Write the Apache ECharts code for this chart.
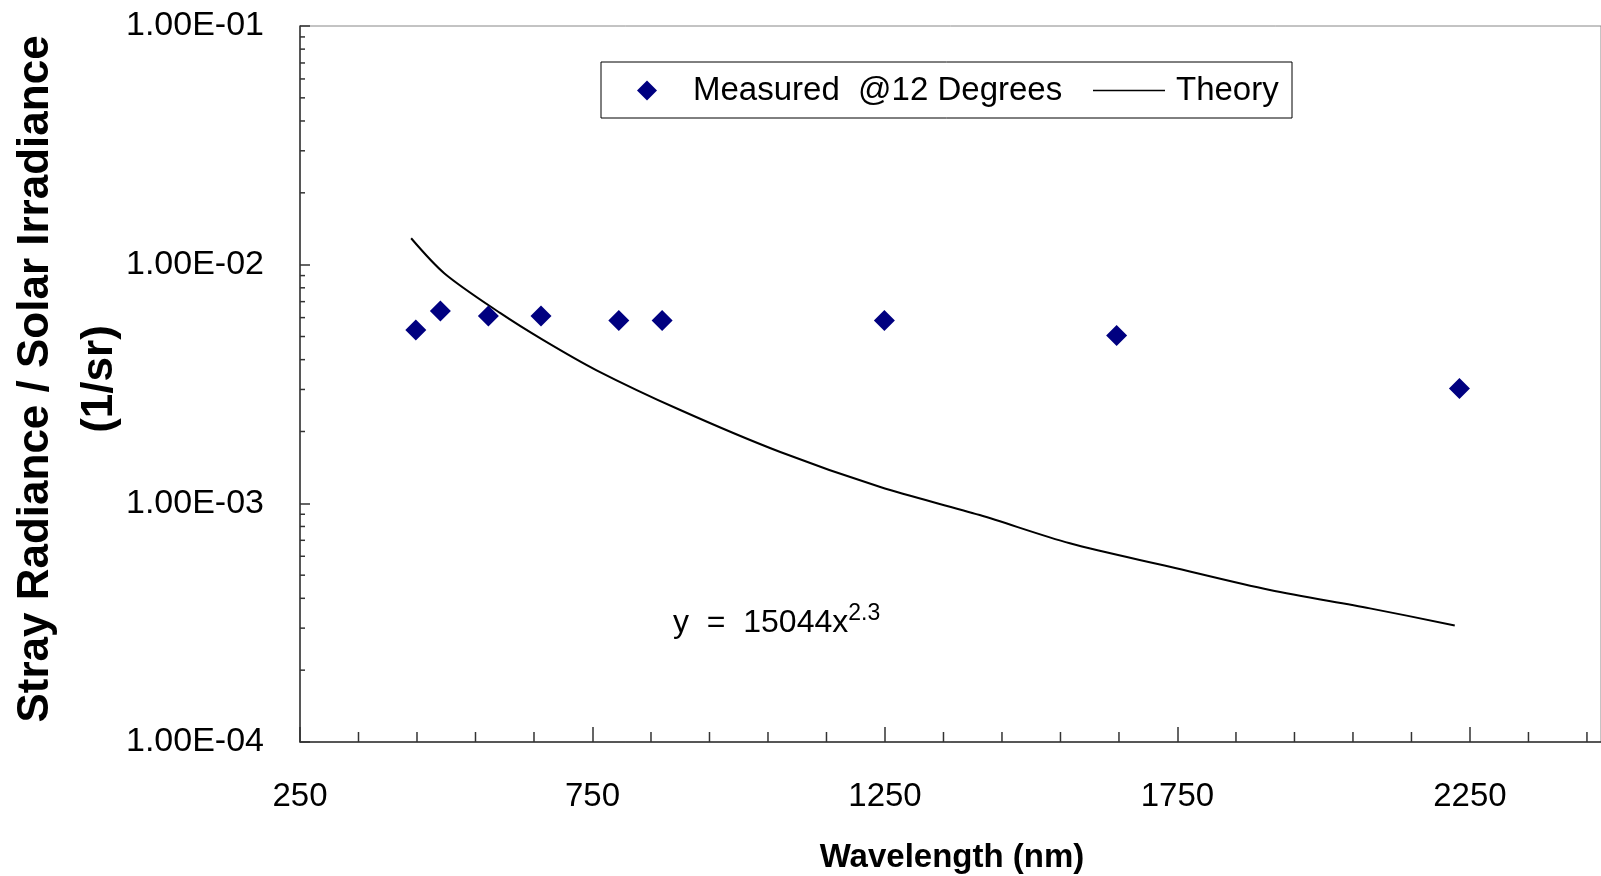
<!DOCTYPE html>
<html>
<head>
<meta charset="utf-8">
<script src="https://cdn.jsdelivr.net/npm/echarts@6/dist/echarts.min.js"></script>
<style>
  html, body { margin: 0; padding: 0; background: #fff; }
  #chart { width: 1601px; height: 876px; }
</style>
</head>
<body>
<div id="chart"></div>
<script>
// values
const measuredWavelength = [448, 490, 572, 662, 795, 869, 1249, 1646, 2232];
const measuredRatio = [5.32e-3, 6.39e-3, 6.09e-3, 6.09e-3, 5.84e-3, 5.84e-3, 5.84e-3, 5.05e-3, 3.03e-3];

const theoryWavelength = [440, 497, 592, 666, 757, 900, 1071, 1242, 1412, 1566, 1737, 1908, 2079, 2224];
const theoryRatio = [1.29e-2, 9.19e-3, 6.28e-3, 4.83e-3, 3.61e-3, 2.46e-3, 1.64e-3, 1.17e-3, 8.93e-4, 6.80e-4, 5.42e-4, 4.33e-4, 3.63e-4, 3.08e-4];

const xTickLabels = [250, 750, 1250, 1750, 2250];
const xMinorTicks = [350, 450, 550, 650, 850, 950, 1050, 1150, 1350, 1450, 1550, 1650,
    1850, 1950, 2050, 2150, 2350, 2450];
const yMinorTicks = [];
[1e-4, 1e-3, 1e-2].forEach(function (d) {
    [2, 3, 4, 5, 6, 7, 8, 9].forEach(function (m) { yMinorTicks.push(m * d); });
});

const font = 'Liberation Sans, Arial, sans-serif';

function fmtExp(v) {
    var e = Math.round(Math.log10(v));
    return '1.00E' + (e < 0 ? '-' : '+') + String(Math.abs(e)).padStart(2, '0');
}

function tickSeries(points, dx, dy) {
    return {
        type: 'custom',
        silent: true,
        clip: false,
        data: points,
        renderItem: function (params, api) {
            var p = api.coord([api.value(0), api.value(1)]);
            return {
                type: 'line',
                shape: { x1: p[0], y1: p[1], x2: p[0] + dx, y2: p[1] + dy },
                style: { stroke: '#333', lineWidth: 1.5 }
            };
        },
        z: 5
    };
}

var chart = echarts.init(document.getElementById('chart'));
chart.setOption({
    animation: false,
    backgroundColor: '#fff',
    grid: {
        left: 300,
        top: 26,
        right: 0,
        bottom: 134,
        show: true,
        borderColor: '#888',
        borderWidth: 1,
        backgroundColor: 'transparent'
    },
    legend: [
        {
            data: [{ name: 'Measured @12 Degrees', icon: 'diamond' }],
            left: 637,
            top: 74,
            padding: 0,
            itemWidth: 20,
            itemHeight: 20,
            textStyle: { fontFamily: font, fontSize: 33, color: '#000', padding: [0, 0, 6, 31] },
            formatter: function () { return 'Measured  @12 Degrees'; }
        },
        {
            data: [{ name: 'Theory', icon: 'rect', itemStyle: { color: '#000' } }],
            left: 1093,
            top: 74,
            padding: 0,
            itemWidth: 72,
            itemHeight: 1.5,
            textStyle: { fontFamily: font, fontSize: 33, color: '#000', padding: [0, 0, 6, 6] }
        }
    ],
    graphic: [
        {
            type: 'rect',
            shape: { x: 601, y: 62, width: 691, height: 56 },
            style: { fill: 'none', stroke: '#000', lineWidth: 1 },
            z: 1
        },
        {
            type: 'text',
            left: 673,
            top: 602,
            style: {
                text: '{m|y  =  15044x}{s|2.3}',
                rich: {
                    m: { fontFamily: font, fontSize: 32, fill: '#000', verticalAlign: 'bottom' },
                    s: { fontFamily: font, fontSize: 23, fill: '#000', verticalAlign: 'top', padding: [0, 0, 14, 0] }
                }
            }
        },
        {
            type: 'text',
            x: 952,
            y: 858,
            style: {
                text: 'Wavelength (nm)',
                fontFamily: font,
                fontSize: 33,
                fontWeight: 'bold',
                fill: '#000',
                align: 'center',
                verticalAlign: 'middle'
            }
        },
        {
            type: 'text',
            x: 68,
            y: 379,
            rotation: Math.PI / 2,
            style: {
                text: 'Stray Radiance / Solar Irradiance\n(1/sr)',
                fontFamily: font,
                fontSize: 44,
                fontWeight: 'bold',
                lineHeight: 64,
                fill: '#000',
                align: 'center',
                verticalAlign: 'middle'
            }
        }
    ],
    xAxis: {
        type: 'value',
        min: 250,
        max: 2474,
        interval: 500,
        axisLine: { lineStyle: { color: '#333', width: 1.5 } },
        axisTick: { inside: true, length: 15, lineStyle: { color: '#333', width: 1.5 } },
        splitLine: { show: false },
        axisLabel: {
            margin: 38,
            fontFamily: font,
            fontSize: 33,
            color: '#000',
            showMaxLabel: false,
            formatter: function (v) { return xTickLabels.indexOf(v) >= 0 ? String(v) : ''; }
        }
    },
    yAxis: {
        type: 'log',
        logBase: 10,
        min: 1e-4,
        max: 1e-1,
        axisLine: { show: true, lineStyle: { color: '#333', width: 1.5 } },
        axisTick: { show: true, inside: true, length: 10, lineStyle: { color: '#333', width: 1.5 } },
        splitLine: { show: false },
        axisLabel: {
            margin: 36,
            fontFamily: font,
            fontSize: 34,
            color: '#000',
            formatter: fmtExp
        }
    },
    series: [
        {
            name: 'Theory',
            type: 'line',
            data: theoryWavelength.map(function (w, i) { return [w, theoryRatio[i]]; }),
            showSymbol: false,
            symbol: 'none',
            smooth: 0.3,
            lineStyle: { color: '#000', width: 2 },
            itemStyle: { color: '#000' },
            z: 3
        },
        {
            name: 'Measured @12 Degrees',
            type: 'scatter',
            symbol: 'diamond',
            symbolSize: 21,
            data: measuredWavelength.map(function (w, i) { return [w, measuredRatio[i]]; }),
            itemStyle: { color: '#000080', opacity: 1 },
            z: 4
        },
        tickSeries(yMinorTicks.map(function (v) { return [250, v]; }), 5, 0),
        tickSeries(xMinorTicks.map(function (v) { return [v, 1e-4]; }), 0, -10)
    ]
});
</script>
</body>
</html>
